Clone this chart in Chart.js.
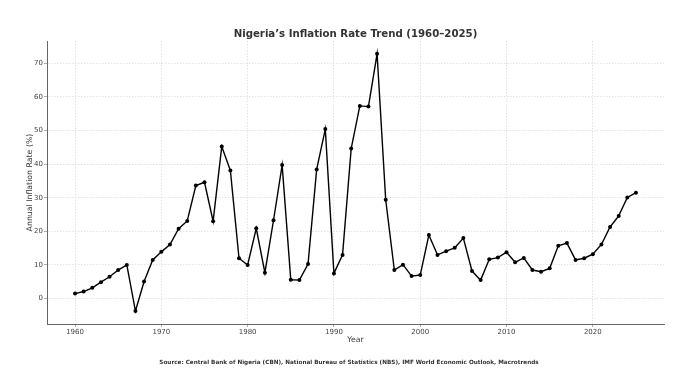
<!DOCTYPE html>
<html>
<head>
<meta charset="utf-8">
<script src="https://cdn.jsdelivr.net/npm/chart.js@4"></script>
<style>
  html, body { margin: 0; padding: 0; background: #fff; }
  #wrap { width: 674px; height: 392px; position: relative; }
</style>
</head>
<body>
<div id="wrap"><canvas id="chartInflation"></canvas></div>
<script>
// Datos
const years = [
  1960, 1961, 1962, 1963, 1964, 1965, 1966, 1967, 1968, 1969,
  1970, 1971, 1972, 1973, 1974, 1975, 1976, 1977, 1978, 1979,
  1980, 1981, 1982, 1983, 1984, 1985, 1986, 1987, 1988, 1989,
  1990, 1991, 1992, 1993, 1994, 1995, 1996, 1997, 1998, 1999,
  2000, 2001, 2002, 2003, 2004, 2005, 2006, 2007, 2008, 2009,
  2010, 2011, 2012, 2013, 2014, 2015, 2016, 2017, 2018, 2019,
  2020, 2021, 2022, 2023, 2024, 2025
];
const inflationRate = [
  1.5, 2.1, 3.2, 4.9, 6.5, 8.5, 10.0, -3.7, 5.1, 11.5,
  13.9, 16.1, 20.8, 23.1, 33.6, 34.6, 23.0, 45.2, 38.1, 12.0,
  10.0, 20.9, 7.7, 23.3, 39.7, 5.6, 5.5, 10.3, 38.4, 50.4,
  7.5, 13.0, 44.6, 57.3, 57.1, 72.8, 29.4, 8.5, 10.1, 6.7,
  7.0, 18.9, 13.0, 14.1, 15.1, 18.0, 8.2, 5.5, 11.7, 12.2,
  13.8, 10.8, 12.1, 8.5, 8.0, 9.0, 15.7, 16.5, 11.5, 12.0,
  13.2, 16.1, 21.3, 24.6, 30.1, 31.5
];
const xTicks = [1960, 1970, 1980, 1990, 2000, 2010, 2020];
const yTicks = [0, 10, 20, 30, 40, 50, 60, 70];

const titleText = 'Nigeria\u2019s Inflation Rate Trend (1960\u20132025)';
const xTitle = 'Year';
const yTitle = 'Annual Inflation Rate (%)';
const sourceText = 'Source: Central Bank of Nigeria (CBN), National Bureau of Statistics (NBS), IMF World Economic Outlook, Macrotrends';

const FONT = "'DejaVu Sans', sans-serif";
const gridColor = '#dcdcdc';
const axisColor = '#666';
const tickText = '#444';

// Título, títulos de ejes y fuente dibujados a mano
const textPlugin = {
  id: 'textPlugin',
  afterDraw(chart) {
    const { ctx, chartArea } = chart;
    const cx = (chartArea.left + chartArea.right) / 2;
    const cy = (chartArea.top + chartArea.bottom) / 2;
    ctx.save();
    ctx.textAlign = 'center';
    ctx.textBaseline = 'middle';

    ctx.fillStyle = '#333';
    ctx.font = 'bold 10.2px ' + FONT;
    ctx.fillText(titleText, cx, 34.5);

    ctx.fillStyle = '#333';
    ctx.font = '7.8px ' + FONT;
    ctx.fillText(xTitle, cx, 339.5);

    ctx.save();
    ctx.translate(30, cy);
    ctx.rotate(-Math.PI / 2);
    ctx.fillText(yTitle, 0, 0);
    ctx.restore();

    ctx.fillStyle = '#333';
    ctx.font = 'bold 5.7px ' + FONT;
    ctx.fillText(sourceText, 349, 362.5);
    ctx.restore();
  }
};

const ctx = document.getElementById('chartInflation').getContext('2d');
new Chart(ctx, {
  type: 'line',
  data: {
    datasets: [{
      label: 'Inflation',
      data: years.map((y, i) => ({ x: y, y: inflationRate[i] })),
      borderColor: '#000',
      backgroundColor: '#000',
      borderWidth: 1.4,
      pointRadius: 2,
      pointHoverRadius: 2,
      pointBackgroundColor: '#000',
      pointBorderWidth: 0,
      tension: 0
    }]
  },
  options: {
    responsive: true,
    maintainAspectRatio: false,
    animation: false,
    layout: { padding: { top: 41, right: 10, left: 0, bottom: 0 } },
    plugins: {
      legend: { display: false },
      tooltip: { enabled: false }
    },
    scales: {
      x: {
        type: 'linear',
        min: 1956.75,
        max: 2028.25,
        afterBuildTicks: axis => { axis.ticks = xTicks.map(v => ({ value: v })); },
        afterFit: axis => { axis.height = 68; },
        ticks: {
          color: tickText,
          font: { family: FONT, size: 7 },
          padding: 1,
          maxRotation: 0,
          callback: v => String(v)
        },
        grid: {
          color: gridColor,
          lineWidth: 0.8,
          tickLength: 3,
          tickColor: '#999'
        },
        border: { color: axisColor, width: 1, dash: [1.5, 1.5] }
      },
      y: {
        min: -7.55,
        max: 76.6,
        afterBuildTicks: axis => { axis.ticks = yTicks.map(v => ({ value: v })); },
        afterFit: axis => { axis.width = 47; },
        ticks: {
          color: tickText,
          font: { family: FONT, size: 7 },
          padding: 1
        },
        grid: {
          color: gridColor,
          lineWidth: 0.8,
          tickLength: 3,
          tickColor: '#999'
        },
        border: { color: axisColor, width: 1, dash: [1.5, 1.5] }
      }
    }
  },
  plugins: [textPlugin]
});
</script>
</body>
</html>
